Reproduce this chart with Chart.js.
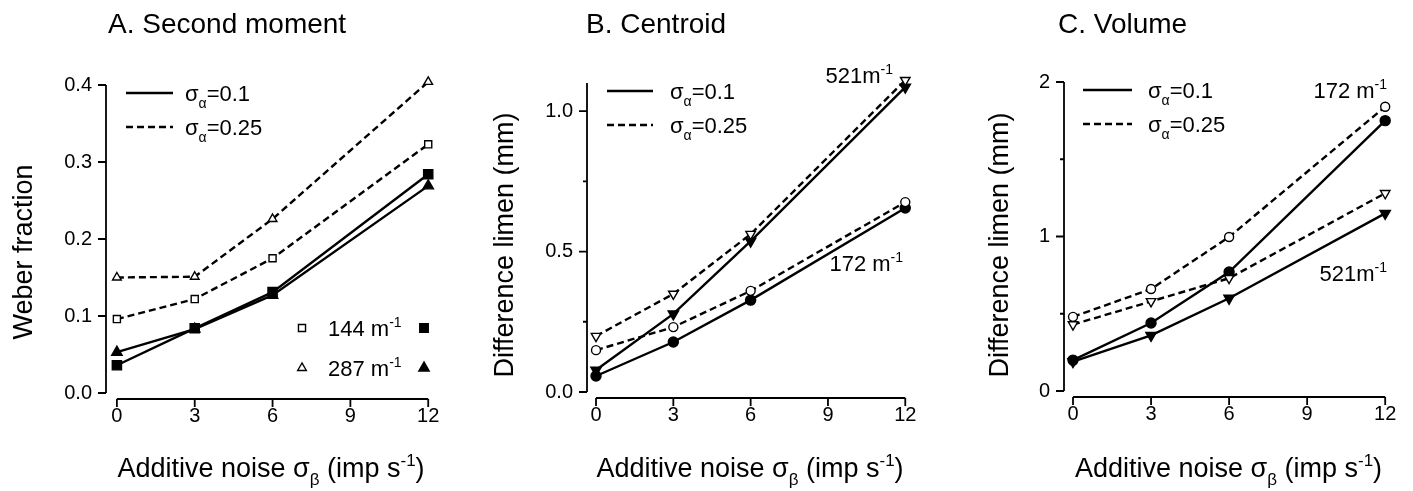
<!DOCTYPE html>
<html>
<head>
<meta charset="utf-8">
<script src="https://cdn.jsdelivr.net/npm/chart.js@4.4.1/dist/chart.umd.min.js"></script>
<style>
  body { margin: 0; background: #fff; width: 1413px; height: 491px; overflow: hidden; position: relative; }
  .panel { position: absolute; top: 0; height: 491px; }
</style>
</head>
<body>
<div class="panel" style="left:0;width:470px"><canvas id="chartA" width="470" height="491"></canvas></div>
<div class="panel" style="left:470px;width:470px"><canvas id="chartB" width="470" height="491"></canvas></div>
<div class="panel" style="left:940px;width:473px"><canvas id="chartC" width="473" height="491"></canvas></div>
<script>
'use strict';
// additive noise levels (x values)
const noise = [0, 3, 6, 12];
const xTicks = [0, 3, 6, 9, 12];

// A. Second moment (Weber fraction)
const a144Wide = [0.096, 0.122, 0.175, 0.323];   // open squares, sigma_a=0.25
const a287Wide = [0.150, 0.151, 0.226, 0.404];   // open triangles
const a144Narrow = [0.036, 0.084, 0.131, 0.284]; // filled squares, sigma_a=0.1
const a287Narrow = [0.053, 0.083, 0.127, 0.269]; // filled triangles
const aTicks = [0, 0.1, 0.2, 0.3, 0.4];

// B. Centroid (difference limen, mm)
const b521Wide = [0.199, 0.349, 0.562, 1.110];
const b521Narrow = [0.078, 0.278, 0.537, 1.085];
const b172Wide = [0.149, 0.231, 0.360, 0.676];
const b172Narrow = [0.057, 0.178, 0.327, 0.655];
const bTicks = [0, 0.5, 1.0];
const bMinor = [0.25, 0.75];

// C. Volume (difference limen, mm)
const c172Wide = [0.48, 0.66, 0.997, 1.84];
const c172Narrow = [0.20, 0.44, 0.77, 1.75];
const c521Wide = [0.43, 0.58, 0.73, 1.28];
const c521Narrow = [0.19, 0.36, 0.60, 1.15];
const cTicks = [0, 1, 2];
const cMinor = [0.5, 1.5];

const FONT = "'Liberation Sans', Arial, sans-serif";
const xTitle = [['Additive noise σ', ''], ['β', 'sub'], [' (imp s', ''], ['-1', 'sup'], [')', '']];

function series(values, style, filled, dashed, radius) {
  return {
    data: noise.map((v, i) => ({ x: v, y: values[i] })),
    borderColor: '#000',
    borderWidth: 2.4,
    borderDash: dashed ? [7, 4] : [],
    tension: 0,
    fill: false,
    clip: false,
    pointStyle: style === 'down' ? 'triangle' : style,
    pointRotation: style === 'down' ? 180 : 0,
    pointRadius: radius,
    pointBorderWidth: 1.4,
    pointBorderColor: '#000',
    pointBackgroundColor: filled ? '#000' : '#fff'
  };
}

// writes text with sub/superscript pieces
function richText(ctx, parts, x, y, size, align) {
  const small = Math.round(size * 0.62);
  let total = 0;
  parts.forEach(p => {
    ctx.font = (p[1] ? small : size) + 'px ' + FONT;
    total += ctx.measureText(p[0]).width;
  });
  let cx = align === 'center' ? x - total / 2 : (align === 'right' ? x - total : x);
  ctx.textAlign = 'left';
  ctx.textBaseline = 'alphabetic';
  parts.forEach(p => {
    ctx.font = (p[1] ? small : size) + 'px ' + FONT;
    let dy = 0;
    if (p[1] === 'sub') dy = size * 0.3;
    if (p[1] === 'sup') dy = -size * 0.42;
    ctx.fillText(p[0], cx, y + dy);
    cx += ctx.measureText(p[0]).width;
  });
}

function drawMark(ctx, style, filled, x, y, r) {
  ctx.beginPath();
  if (style === 'rect') {
    const s = r * Math.SQRT1_2;
    ctx.rect(x - s, y - s, 2 * s, 2 * s);
  } else if (style === 'circle') {
    ctx.arc(x, y, r, 0, Math.PI * 2);
  } else {
    const dir = style === 'down' ? -1 : 1;
    const h = r * 1.5;
    const w = r * Math.sqrt(3) / 2;
    ctx.moveTo(x, y - dir * r);
    ctx.lineTo(x - w, y - dir * (r - h));
    ctx.lineTo(x + w, y - dir * (r - h));
    ctx.closePath();
  }
  ctx.fillStyle = filled ? '#000' : '#fff';
  ctx.fill();
  ctx.lineWidth = 1.4;
  ctx.strokeStyle = '#000';
  ctx.stroke();
}

const figurePlugin = {
  id: 'figure',
  afterDraw(chart, args, o) {
    const ctx = chart.ctx;
    const xs = chart.scales.x, ys = chart.scales.y;
    const ca = chart.chartArea;
    ctx.save();
    ctx.strokeStyle = '#000';
    ctx.fillStyle = '#000';
    ctx.setLineDash([]);
    ctx.lineWidth = 1.8;

    // y axis with ticks pointing out
    const yTop = ys.getPixelForValue(ys.max), yBot = ys.getPixelForValue(ys.min);
    ctx.beginPath();
    ctx.moveTo(ca.left, yTop);
    ctx.lineTo(ca.left, yBot);
    o.yTicks.forEach(v => {
      const p = ys.getPixelForValue(v);
      ctx.moveTo(ca.left - 8, p);
      ctx.lineTo(ca.left, p);
    });
    (o.yMinor || []).forEach(v => {
      const p = ys.getPixelForValue(v);
      ctx.moveTo(ca.left - 4, p);
      ctx.lineTo(ca.left, p);
    });
    // x axis sits slightly below the plot
    const ax = ca.bottom + 6;
    ctx.moveTo(xs.getPixelForValue(xTicks[0]), ax);
    ctx.lineTo(xs.getPixelForValue(xTicks[xTicks.length - 1]), ax);
    xTicks.forEach(v => {
      const p = xs.getPixelForValue(v);
      ctx.moveTo(p, ax);
      ctx.lineTo(p, ax + 8);
    });
    ctx.stroke();

    // panel title
    ctx.fillStyle = '#000';
    ctx.font = '28px ' + FONT;
    ctx.textAlign = 'left';
    ctx.textBaseline = 'alphabetic';
    ctx.fillText(o.title, o.titleX, 33);

    // axis titles
    richText(ctx, xTitle, (ca.left + ca.right) / 2, 477, 27, 'center');
    ctx.save();
    ctx.translate(o.yTitleX, o.yTitleY);
    ctx.rotate(-Math.PI / 2);
    richText(ctx, [[o.yTitle, '']], 0, 0, 27, 'center');
    ctx.restore();

    // line-style legend
    const lg = o.legend;
    ctx.lineWidth = 2.4;
    ctx.beginPath();
    ctx.moveTo(lg.x0, lg.y0);
    ctx.lineTo(lg.x1, lg.y0);
    ctx.stroke();
    ctx.setLineDash([7, 4]);
    ctx.beginPath();
    ctx.moveTo(lg.x0, lg.y0 + 34);
    ctx.lineTo(lg.x1, lg.y0 + 34);
    ctx.stroke();
    ctx.setLineDash([]);
    richText(ctx, [['σ', ''], ['α', 'sub'], ['=0.1', '']], lg.tx, lg.y0 + 8, 22, 'left');
    richText(ctx, [['σ', ''], ['α', 'sub'], ['=0.25', '']], lg.tx, lg.y0 + 42, 22, 'left');

    // symbol legend (panel A)
    (o.symbols || []).forEach(s => {
      drawMark(ctx, s.style, false, s.x0, s.y, s.r);
      drawMark(ctx, s.style, true, s.x1, s.y, s.r + 1);
      ctx.fillStyle = '#000';
      richText(ctx, [[s.text, ''], ['-1', 'sup']], s.tx, s.y + 8, 22, 'left');
    });

    // curve labels (panels B, C)
    (o.labels || []).forEach(l => {
      ctx.fillStyle = '#000';
      richText(ctx, [[l.text, ''], ['-1', 'sup']], l.x, l.y + 8, 22, 'right');
    });
    ctx.restore();
  }
};

function makeChart(id, datasets, xMin, yMin, yMax, yTickValues, yFormat, pad, yWidth, extra) {
  return new Chart(document.getElementById(id), {
    type: 'scatter',
    data: { datasets: datasets.map(d => Object.assign(d, { showLine: true })) },
    options: {
      responsive: false,
      animation: false,
      devicePixelRatio: 1,
      layout: { padding: pad },
      plugins: { legend: { display: false }, tooltip: { enabled: false }, figure: extra },
      scales: {
        x: {
          type: 'linear', min: xMin, max: 12.3,
          grid: { display: false, drawTicks: false }, border: { display: false },
          afterBuildTicks: s => { s.ticks = xTicks.map(v => ({ value: v })); },
          afterFit: s => { s.height = 491 - pad.top - extra.plotH; },
          ticks: { color: '#000', font: { family: FONT, size: 20 }, padding: 11, maxRotation: 0, autoSkip: false }
        },
        y: {
          min: yMin, max: yMax,
          grid: { display: false, drawTicks: false }, border: { display: false },
          afterBuildTicks: s => { s.ticks = yTickValues.map(v => ({ value: v })); },
          afterFit: s => { s.width = yWidth; },
          ticks: { color: '#000', font: { family: FONT, size: 20 }, padding: 14, autoSkip: false, callback: yFormat }
        }
      }
    },
    plugins: [figurePlugin]
  });
}

// Panel A
makeChart('chartA', [
  series(a144Wide, 'rect', false, true, 5),
  series(a287Wide, 'triangle', false, true, 5),
  series(a144Narrow, 'rect', true, false, 6.5),
  series(a287Narrow, 'triangle', true, false, 6)
], -0.42, 0, 0.4, aTicks, v => v.toFixed(1),
  { top: 85, right: 34, left: 0, bottom: 0 }, 106, {
    plotH: 308,
    yTicks: aTicks,
    title: 'A. Second moment', titleX: 108,
    yTitle: 'Weber fraction', yTitleX: 32, yTitleY: 252,
    legend: { x0: 126, x1: 173, y0: 93, tx: 185 },
    symbols: [
      { style: 'rect', x0: 302, x1: 424, y: 328, r: 5, text: '144 m', tx: 328 },
      { style: 'triangle', x0: 302, x1: 424, y: 368, r: 5, text: '287 m', tx: 328 }
    ]
  });

// Panel B
makeChart('chartB', [
  series(b521Wide, 'down', false, true, 5.5),
  series(b172Wide, 'circle', false, true, 4.5),
  series(b521Narrow, 'down', true, false, 6),
  series(b172Narrow, 'circle', true, false, 5)
], -0.35, 0, 1.1, bTicks, v => v.toFixed(1),
  { top: 83, right: 27, left: 0, bottom: 0 }, 117, {
    plotH: 309,
    yTicks: bTicks, yMinor: bMinor,
    title: 'B. Centroid', titleX: 116,
    yTitle: 'Difference limen (mm)', yTitleX: 43, yTitleY: 245,
    legend: { x0: 137, x1: 183, y0: 91, tx: 200 },
    labels: [
      { text: '521m', x: 423, y: 75 },
      { text: '172 m', x: 433, y: 263 }
    ]
  });

// Panel C
makeChart('chartC', [
  series(c172Wide, 'circle', false, true, 4.5),
  series(c521Wide, 'down', false, true, 5.5),
  series(c172Narrow, 'circle', true, false, 5),
  series(c521Narrow, 'down', true, false, 6)
], -0.346, 0, 2, cTicks, v => v.toFixed(0),
  { top: 82, right: 20, left: 0, bottom: 0 }, 124, {
    plotH: 309,
    yTicks: cTicks, yMinor: cMinor,
    title: 'C. Volume', titleX: 118,
    yTitle: 'Difference limen (mm)', yTitleX: 68, yTitleY: 245,
    legend: { x0: 143, x1: 192, y0: 90, tx: 208 },
    labels: [
      { text: '172 m', x: 447, y: 90 },
      { text: '521m', x: 447, y: 273 }
    ]
  });
</script>
</body>
</html>
